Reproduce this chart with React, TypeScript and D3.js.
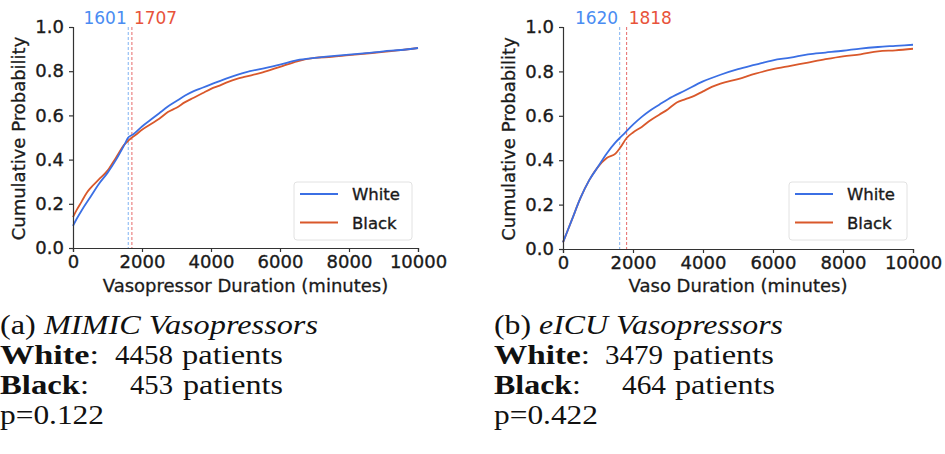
import React, { useRef, useEffect } from 'react';
import * as d3 from 'd3';

// ECDF readings: [minutes, cumulative probability]
const mimicWhite: [number, number][] = [
  [0, 0.1], [100, 0.13], [250, 0.17], [500, 0.23], [750, 0.29], [1000, 0.34],
  [1250, 0.4], [1500, 0.47], [1601, 0.5], [1750, 0.515], [2000, 0.55], [2250, 0.58],
  [2500, 0.61], [2750, 0.64], [3000, 0.665], [3250, 0.69], [3500, 0.71], [3750, 0.725],
  [4000, 0.74], [4500, 0.77], [5000, 0.795], [5500, 0.812], [6000, 0.83], [6500, 0.85],
  [7000, 0.86], [7500, 0.868], [8000, 0.875], [8500, 0.882], [9000, 0.89], [9500, 0.896],
  [10000, 0.905],
];
const mimicBlack: [number, number][] = [
  [0, 0.14], [100, 0.17], [250, 0.21], [400, 0.25], [500, 0.27], [750, 0.31],
  [1000, 0.35], [1250, 0.41], [1500, 0.47], [1601, 0.485], [1707, 0.5], [1800, 0.51],
  [2000, 0.535], [2250, 0.56], [2500, 0.585], [2750, 0.615], [3000, 0.635], [3250, 0.66],
  [3500, 0.68], [3750, 0.7], [4000, 0.72], [4250, 0.735], [4500, 0.752], [4750, 0.765],
  [5000, 0.775], [5500, 0.795], [6000, 0.82], [6500, 0.845], [7000, 0.86], [7500, 0.865],
  [8000, 0.873], [8500, 0.88], [9000, 0.887], [9500, 0.895], [10000, 0.905],
];
const eicuWhite: [number, number][] = [
  [0, 0.03], [100, 0.07], [250, 0.13], [500, 0.23], [750, 0.31], [1000, 0.37],
  [1250, 0.43], [1500, 0.48], [1620, 0.5], [1750, 0.52], [2000, 0.56], [2250, 0.595],
  [2500, 0.625], [2750, 0.65], [3000, 0.675], [3500, 0.715], [4000, 0.755], [4500, 0.785],
  [5000, 0.81], [5500, 0.83], [6000, 0.85], [6500, 0.862], [7000, 0.877], [7500, 0.885],
  [8000, 0.893], [8500, 0.903], [9000, 0.91], [9500, 0.915], [10000, 0.92],
];
const eicuBlack: [number, number][] = [
  [0, 0.03], [100, 0.07], [250, 0.13], [500, 0.23], [750, 0.31], [1000, 0.37],
  [1250, 0.41], [1500, 0.43], [1650, 0.46], [1818, 0.5], [2000, 0.525], [2250, 0.55],
  [2500, 0.58], [2750, 0.605], [3000, 0.63], [3250, 0.66], [3500, 0.675], [3750, 0.69],
  [4000, 0.71], [4250, 0.73], [4500, 0.745], [5000, 0.765], [5500, 0.79], [6000, 0.81],
  [6500, 0.825], [7000, 0.84], [7500, 0.855], [8000, 0.868], [8500, 0.877], [9000, 0.89],
  [9500, 0.895], [10000, 0.902],
];

const xTicks = [0, 2000, 4000, 6000, 8000, 10000];
const yTicks = [0, 0.2, 0.4, 0.6, 0.8, 1.0];
const seriesNames = ['White', 'Black'];

const COLORS = {
  White: '#3b6fe4',
  Black: '#d9582b',
};
const MEDIAN_TEXT = { White: '#4a8cf2', Black: '#e8533a' };
const MEDIAN_LINE = { White: '#7fb2f2', Black: '#e66a6a' };

interface Panel {
  left: number;
  right: number;
  top: number;
  bottom: number;
  xLabel: string;
  white: [number, number][];
  black: [number, number][];
  medians: [number, number];
  caption: { tag: string; title: string; white: number; black: number; p: string };
  captionX: number;
  // caption piece geometry: [x, width]
  geo: {
    title: number;
    whiteLbl: number; whiteNum: [number, number]; whitePat: [number, number];
    blackLbl: number; blackNum: [number, number]; blackPat: [number, number];
  };
}

const panels: Panel[] = [
  {
    left: 73, right: 418, top: 27, bottom: 248,
    xLabel: 'Vasopressor Duration (minutes)',
    white: mimicWhite, black: mimicBlack,
    medians: [1601, 1707],
    caption: { tag: '(a) ', title: 'MIMIC Vasopressors', white: 4458, black: 453, p: 'p=0.122' },
    captionX: 0,
    geo: {
      title: 318,
      whiteLbl: 99, whiteNum: [115, 58], whitePat: [182, 101],
      blackLbl: 89, blackNum: [130, 43], blackPat: [183, 100],
    },
  },
  {
    left: 563, right: 913, top: 27, bottom: 249,
    xLabel: 'Vaso Duration (minutes)',
    white: eicuWhite, black: eicuBlack,
    medians: [1620, 1818],
    caption: { tag: '(b) ', title: 'eICU Vasopressors', white: 3479, black: 464, p: 'p=0.422' },
    captionX: 494,
    geo: {
      title: 289,
      whiteLbl: 96, whiteNum: [111, 58], whitePat: [179, 101],
      blackLbl: 87, blackNum: [128, 44], blackPat: [181, 100],
    },
  },
];

const SANS = 'DejaVu Sans, sans-serif';
const SERIF = 'Liberation Serif, serif';
const INK = '#1a1a1a';

export default function App() {
  const svgRef = useRef<SVGSVGElement>(null);

  useEffect(() => {
    if (!svgRef.current) return;
    const svg = d3.select(svgRef.current);
    svg.selectAll('*').remove();

    svg.append('rect').attr('width', 945).attr('height', 454).attr('fill', '#fff');

    panels.forEach((p) => {
      const x = d3.scaleLinear().domain([0, 10000]).range([p.left, p.right]);
      const y = d3.scaleLinear().domain([0, 1]).range([p.bottom, p.top]);
      const g = svg.append('g');

      // median lines
      p.medians.forEach((m, i) => {
        const name = seriesNames[i] as 'White' | 'Black';
        g.append('line')
          .attr('x1', x(m)).attr('x2', x(m))
          .attr('y1', p.top).attr('y2', p.bottom)
          .attr('stroke', MEDIAN_LINE[name])
          .attr('stroke-width', 1)
          .attr('stroke-dasharray', '3,2');
        g.append('text')
          .attr('x', i === 0 ? x(m) - 1.5 : x(m) + 2)
          .attr('y', 24)
          .attr('text-anchor', i === 0 ? 'end' : 'start')
          .attr('font-family', SANS)
          .attr('font-size', 17)
          .attr('fill', MEDIAN_TEXT[name])
          .text(String(m));
      });

      // curves
      const line = d3.line<[number, number]>()
        .x((d) => x(d[0]))
        .y((d) => y(d[1]))
        .curve(d3.curveMonotoneX);
      [p.black, p.white].forEach((data, i) => {
        const name = i === 0 ? 'Black' : 'White';
        g.append('path')
          .datum(data)
          .attr('d', line)
          .attr('fill', 'none')
          .attr('stroke', COLORS[name])
          .attr('stroke-width', 1.8);
      });

      // axes
      const xAxis = g.append('g')
        .attr('transform', `translate(0,${p.bottom})`)
        .call(d3.axisBottom(x).tickValues(xTicks).tickSize(4).tickPadding(3).tickFormat(d3.format('d')));
      const yAxis = g.append('g')
        .attr('transform', `translate(${p.left},0)`)
        .call(d3.axisLeft(y).tickValues(yTicks).tickSize(4).tickPadding(5).tickFormat(d3.format('.1f')));
      [xAxis, yAxis].forEach((a) => {
        a.select('.domain').attr('stroke', '#333').attr('stroke-width', 1.2);
        a.selectAll('.tick line').attr('stroke', '#333').attr('stroke-width', 1.2);
        a.selectAll('.tick text')
          .attr('font-family', SANS)
          .attr('font-size', 18)
          .attr('fill', INK)
          .attr('stroke', INK)
          .attr('stroke-width', 0.35);
      });

      g.append('text')
        .attr('x', (p.left + p.right) / 2)
        .attr('y', 292)
        .attr('text-anchor', 'middle')
        .attr('font-family', SANS)
        .attr('font-size', 18)
        .attr('fill', INK)
        .attr('stroke', INK)
        .attr('stroke-width', 0.3)
        .text(p.xLabel);

      g.append('text')
        .attr('transform', `translate(${p.left - 48},${(p.top + p.bottom) / 2 + 1}) rotate(-90)`)
        .attr('text-anchor', 'middle')
        .attr('font-family', SANS)
        .attr('font-size', 18)
        .attr('fill', INK)
        .attr('stroke', INK)
        .attr('stroke-width', 0.3)
        .text('Cumulative Probability');

      // legend
      const lg = g.append('g').attr('transform', `translate(${p.right - 124},182)`);
      lg.append('rect')
        .attr('width', 118).attr('height', 58).attr('rx', 3)
        .attr('fill', '#fff').attr('stroke', '#e2e2e2').attr('stroke-width', 1);
      seriesNames.forEach((name, i) => {
        const ly = 12 + i * 28.5;
        lg.append('line')
          .attr('x1', 6).attr('x2', 44)
          .attr('y1', ly).attr('y2', ly)
          .attr('stroke', COLORS[name as 'White' | 'Black'])
          .attr('stroke-width', 1.8);
        lg.append('text')
          .attr('x', 58).attr('y', ly + 6)
          .attr('font-family', SANS)
          .attr('font-size', 16.5)
          .attr('fill', INK)
          .attr('stroke', INK)
          .attr('stroke-width', 0.35)
          .text(name);
      });

      // caption
      const c = svg.append('g')
        .attr('transform', `translate(${p.captionX},0)`)
        .attr('font-family', SERIF)
        .attr('fill', '#111')
        .attr('font-size', 27);
      const l1 = c.append('text').attr('x', 0).attr('y', 334);
      l1.append('tspan').text(p.caption.tag);
      l1.append('tspan').attr('font-style', 'italic').text(p.caption.title);
      l1.attr('textLength', p.geo.title).attr('lengthAdjust', 'spacingAndGlyphs');

      const rows = [
        { label: 'White', n: p.caption.white, y: 364, lbl: p.geo.whiteLbl, num: p.geo.whiteNum, pat: p.geo.whitePat },
        { label: 'Black', n: p.caption.black, y: 394, lbl: p.geo.blackLbl, num: p.geo.blackNum, pat: p.geo.blackPat },
      ];
      rows.forEach((r) => {
        const t = c.append('text').attr('x', 0).attr('y', r.y)
          .attr('textLength', r.lbl).attr('lengthAdjust', 'spacingAndGlyphs');
        t.append('tspan').attr('font-weight', 'bold').text(r.label);
        t.append('tspan').text(':');
        c.append('text').attr('x', r.num[0]).attr('y', r.y)
          .attr('textLength', r.num[1]).attr('lengthAdjust', 'spacingAndGlyphs')
          .text(String(r.n));
        c.append('text').attr('x', r.pat[0]).attr('y', r.y)
          .attr('textLength', r.pat[1]).attr('lengthAdjust', 'spacingAndGlyphs')
          .text('patients');
      });
      c.append('text').attr('x', 0).attr('y', 424)
        .attr('textLength', 104).attr('lengthAdjust', 'spacingAndGlyphs')
        .text(p.caption.p);
    });
  }, []);

  return (
    <svg
      ref={svgRef}
      width={945}
      height={454}
      style={{ position: 'absolute', left: 0, top: 0 }}
    />
  );
}
